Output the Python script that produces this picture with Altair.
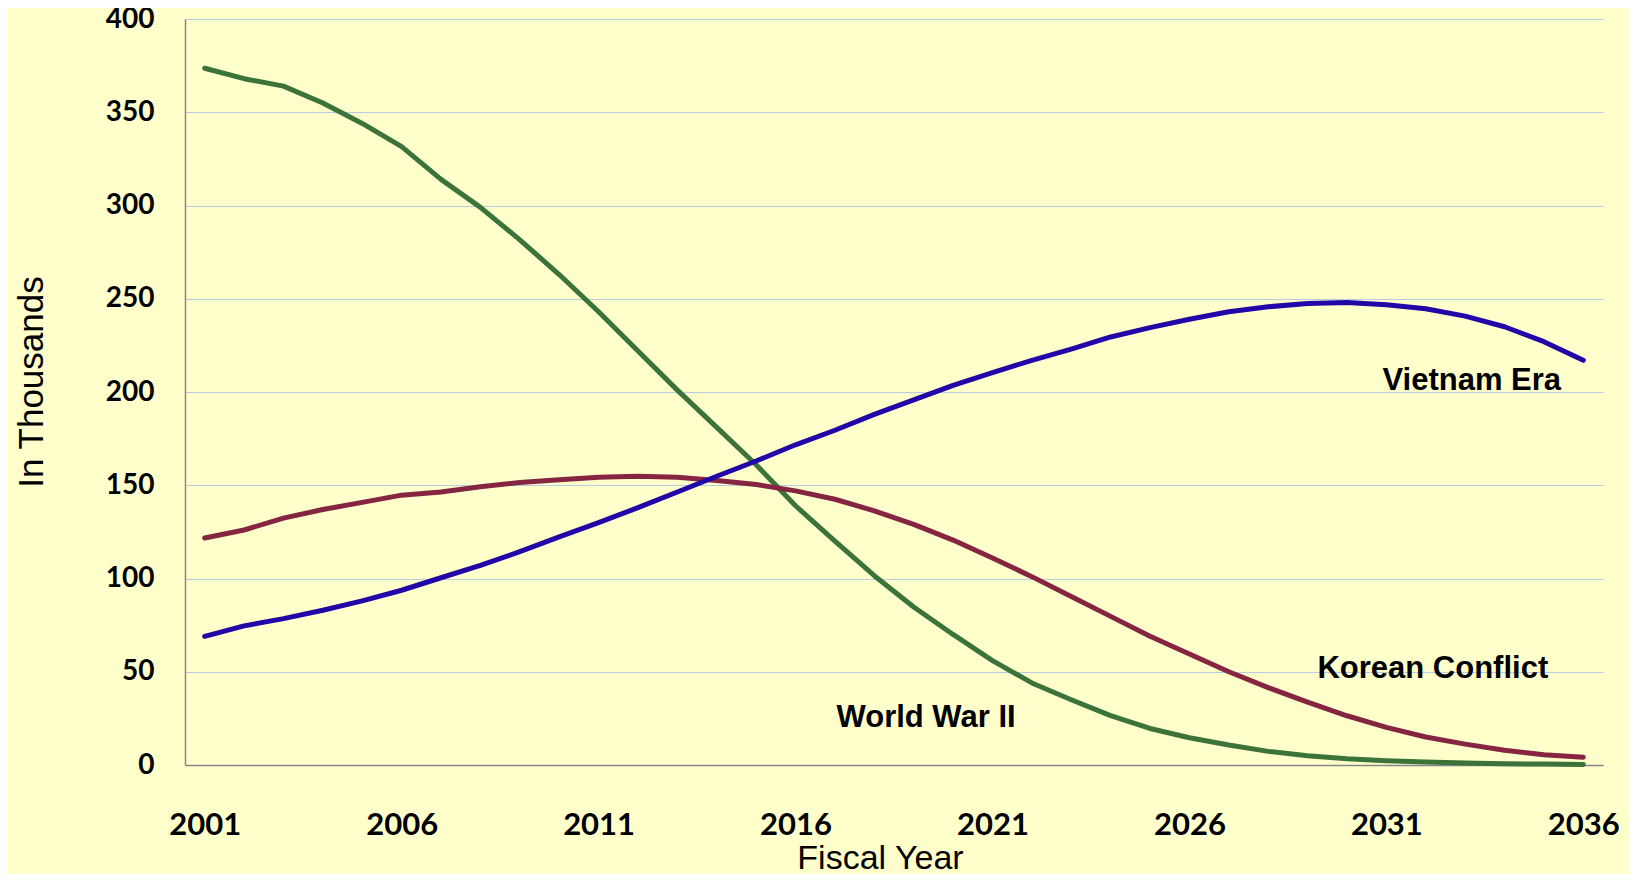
import altair as alt
import pandas as pd

years = list(range(2001, 2037))
wwii = [373.6, 368, 364, 355, 344, 331.6, 314, 299, 281.6, 263, 243, 222, 201, 181, 161,
        139, 120, 101.5, 84.7, 70, 56, 44, 35, 26.5, 19.6, 14.6, 10.7, 7.3, 5, 3.4,
        2.3, 1.6, 1.1, 0.7, 0.5, 0.3]
korean = [121.7, 126, 132.4, 137, 140.8, 144.7, 146.4, 149.2, 151.5, 153, 154.3, 154.8,
          154.3, 152.6, 150.4, 147, 142.5, 136.3, 129, 120.6, 111, 101, 90.3, 79.7, 69,
          59.5, 50, 41.5, 33.7, 26.4, 20.2, 15, 11.2, 7.9, 5.5, 4.2]
vietnam = [69, 74.6, 78.5, 83, 88, 93.7, 100.4, 107, 114.4, 122.3, 130, 138, 146.4, 154.8,
           163, 171.7, 179.5, 188, 195.8, 203.6, 210.4, 217, 223, 229.5, 234.5, 239, 243,
           245.7, 247.4, 248, 246.8, 244.6, 240.7, 235, 227, 217]

series_names = ["World War II", "Korean Conflict", "Vietnam Era"]
series_colors = ["#3B733A", "#862541", "#2107A8"]

label_text = ["Vietnam Era", "Korean Conflict", "World War II"]
label_year = [2030.9, 2029.25, 2017.04]
label_value = [201, 46.6, 20.4]

x_ticks = [2001, 2006, 2011, 2016, 2021, 2026, 2031, 2036]
y_ticks = [0, 50, 100, 150, 200, 250, 300, 350, 400]

rows = []
for name, vals in zip(series_names, [wwii, korean, vietnam]):
    for yr, v in zip(years, vals):
        rows.append({"year": yr, "value": v, "series": name})
df = pd.DataFrame(rows)
labels = pd.DataFrame({"text": label_text, "year": label_year, "value": label_value})

x_scale = alt.Scale(domain=[2000.5, 2036.5], nice=False, zero=False)
y_scale = alt.Scale(domain=[0, 400], nice=False)

lines = alt.Chart(df).mark_line(strokeWidth=5, strokeCap="round", strokeJoin="round").encode(
    x=alt.X("year:Q", scale=x_scale,
            axis=alt.Axis(values=x_ticks, format="d", title="Fiscal Year",
                          ticks=False, grid=False, labelPadding=60,
                          labelBaseline="middle", labelFont="Lato",
                          labelFontWeight="bold", labelFontSize=31,
                          labelColor="black", labelFlush=False,
                          domainColor="#868686", domainWidth=1.5,
                          titleFont="Liberation Sans", titleFontSize=34,
                          titleFontWeight="normal", titleColor="black",
                          titleX=695, titleY=103, titleBaseline="alphabetic",
                          titleAnchor="middle", titleAlign="center")),
    y=alt.Y("value:Q", scale=y_scale,
            axis=alt.Axis(values=y_ticks, title="In Thousands", ticks=False,
                          labelPadding=31, labelFont="Lato", labelFontWeight="bold",
                          labelFontSize=28, labelColor="black", labelFlush=False,
                          domainColor="#868686", domainWidth=1.5,
                          gridColor="#B8CCE4", gridWidth=1.2,
                          titleFont="Liberation Sans", titleFontSize=35,
                          titleFontWeight="normal", titleColor="black",
                          titleAngle=-90, titleX=-143, titleY=362.5,
                          titleBaseline="alphabetic", titleAlign="center")),
    color=alt.Color("series:N", scale=alt.Scale(domain=series_names, range=series_colors),
                    legend=None),
    detail="series:N",
)

texts = alt.Chart(labels).mark_text(
    align="left", baseline="alphabetic", font="Liberation Sans",
    fontWeight="bold", fontSize=31, color="black"
).encode(
    x=alt.X("year:Q", scale=x_scale),
    y=alt.Y("value:Q", scale=y_scale),
    text="text:N",
)

chart = (lines + texts).properties(
    width=1418, height=746,
    autosize=alt.AutoSizeParams(type="none"),
    padding={"left": 177, "top": 11, "right": 26, "bottom": 109},
    background="#FFFFCC",
).configure_view(stroke=None, fill="#FFFFCC")

chart.save("out.html", embed_options={"renderer": "svg", "actions": False})
